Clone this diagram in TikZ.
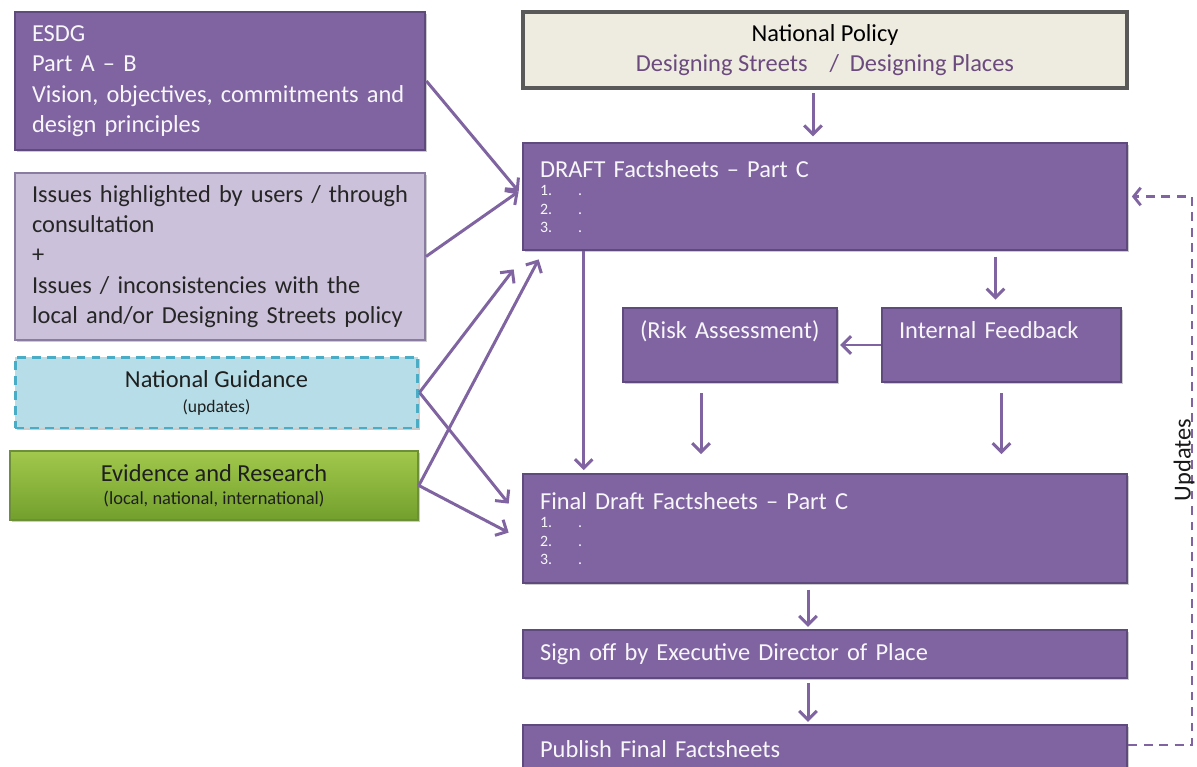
\documentclass[tikz,border=0pt]{standalone}
\usepackage{fontspec}
\setmainfont{Carlito}
\usetikzlibrary{arrows.meta,shadows,calc}
\definecolor{pfill}{HTML}{8064A2}
\definecolor{pborder}{HTML}{5E4A7D}
\definecolor{lavf}{HTML}{CCC1DA}
\definecolor{lavb}{HTML}{8A7CA0}
\definecolor{ngf}{HTML}{B7DEE8}
\definecolor{ngb}{HTML}{4BACC6}
\definecolor{evtop}{HTML}{A2C84C}
\definecolor{evbot}{HTML}{72A02D}
\definecolor{evb}{HTML}{6E8F3A}
\definecolor{npf}{HTML}{EEECE1}
\definecolor{npb}{HTML}{595959}
\definecolor{arrc}{HTML}{7F64A1}
\definecolor{dsp}{HTML}{6B4A7E}
\newcommand\mainsz{\fontsize{13.9}{17.3}\selectfont}
\newcommand\listsz{\fontsize{9}{10.5}\selectfont}
\newcommand\itm[1]{\makebox[0.76cm][l]{#1}.\par}
\begin{document}
\begin{tikzpicture}[x=0.02cm,y=-0.02cm,
  shd/.style={drop shadow={shadow xshift=1.2pt,shadow yshift=-1.2pt,opacity=0.2,fill=black}},
  pbox/.style={shd,draw=pborder,line width=1.6pt,fill=pfill,text=white!94!pfill,
    inner xsep=0.34cm,inner ysep=0pt,align=left,font=\mainsz},
  lbox/.style={shd,draw=lavb,line width=1.2pt,fill=lavf,text=black!85,
    inner xsep=0.34cm,inner ysep=0pt,align=left,font=\mainsz},
  arr/.style={draw=arrc,line width=1.7pt,-{Straight Barb[length=5pt,width=10pt]}},
  updline/.style={draw=arrc,line width=1.6pt,dash pattern=on 5pt off 3.8pt,
    -{Straight Barb[length=4pt,width=10pt]}}]
\useasboundingbox (0,0) rectangle (1197,767);

% left column
\node[pbox,minimum width=8.2cm,minimum height=2.76cm,text width=7.52cm] (esdg) at (220,81)
  {ESDG\\Part A – B\\\mbox{Vision, objectives, commitments and}\\design principles};
\node[lbox,minimum width=8.2cm,minimum height=3.34cm,text width=7.52cm] (issues) at (220,256.5)
  {\mbox{Issues highlighted by users / through}\\consultation\\+\\Issues / inconsistencies with the\\\mbox{local and/or Designing Streets policy}};
\node[shd,draw=ngb,fill=ngf,line width=1.7pt,dash pattern=on 5pt off 3.5pt,
  minimum width=8.06cm,minimum height=1.42cm,align=center,font=\mainsz,text=black!88] (ng) at (216.5,392.5)
  {National Guidance\\[-3pt]{\fontsize{10}{11}\selectfont (updates)}};
\node[shd,draw=evb,top color=evtop,bottom color=evbot,line width=1pt,
  minimum width=8.16cm,minimum height=1.38cm,align=center,font=\mainsz,text=black!88] (ev) at (214,485.5)
  {Evidence and Research\\[-4pt]{\fontsize{10.5}{11}\selectfont (local, national, international)}};

% main column
\node[shd,draw=npb,fill=npf,line width=1.8pt,minimum width=12.08cm,minimum height=1.52cm,
  align=center,font=\mainsz,text=black] (np) at (825,50)
  {National Policy\\{\color{dsp}Designing Streets\hspace{0.9em}/\hspace{0.45em}Designing Places}};
\node[pbox,minimum width=12.08cm,minimum height=2.14cm,text width=11.4cm] (draft) at (825,196.5)
  {DRAFT Factsheets – Part C\par{\listsz\itm{1.}\itm{2.}\itm{3.}}};
\node[pbox,minimum width=4.28cm,minimum height=1.48cm,text width=3.6cm] (risk) at (730,345)
  {(Risk Assessment)\par\mbox{}};
\node[pbox,minimum width=4.78cm,minimum height=1.48cm,text width=4.1cm] (ifb) at (1001.5,345)
  {Internal Feedback\par\mbox{}};
\node[pbox,minimum width=12.08cm,minimum height=2.18cm,text width=11.4cm] (final) at (825,528.5)
  {Final Draft Factsheets – Part C\par{\listsz\itm{1.}\itm{2.}\itm{3.}}};
\node[pbox,minimum width=12.08cm,minimum height=0.96cm,text width=11.4cm] (sign) at (825,654)
  {Sign off by Executive Director of Place};
\node[pbox,minimum width=12.08cm,minimum height=0.96cm,text width=11.4cm] (pub) at (825,749)
  {Publish Final Factsheets};

% connectors
\draw[arr,shorten <=2pt,shorten >=3pt] ([xshift=-0.24cm]np.south) -- ([xshift=-0.24cm]draft.north);
\draw[arr] (esdg.east) -- ([xshift=-0.06cm,yshift=0.1cm]draft.west);
\draw[arr] (issues.east) -- ([xshift=-0.06cm,yshift=0.1cm]draft.west);
\draw[arr] (ng.east) -- ([xshift=-0.16cm,yshift=-0.36cm]draft.south west);
\draw[arr] (ev.east) -- ([xshift=0.34cm,yshift=-0.16cm]draft.south west);
\draw[arr] (ng.east) -- ([xshift=-0.26cm,yshift=-0.62cm]final.north west);
\draw[arr] (ev.east) -- ([xshift=-0.26cm,yshift=-1.2cm]final.north west);
\draw[arr] ([xshift=1.24cm]draft.south west) -- ([xshift=1.24cm,yshift=0.05cm]final.north west);
\draw[arr,shorten <=3pt,shorten >=4pt] ([xshift=-0.12cm]draft.south -| ifb.north) -- ([xshift=-0.12cm]ifb.north);
\draw[arr,shorten >=1pt] (ifb.west) -- (risk.east);
\draw[arr,shorten <=5.5pt,shorten >=10.5pt] ([xshift=-0.58cm]risk.south) -- ([xshift=-0.58cm]risk.south |- final.north);
\draw[arr,shorten <=5.5pt,shorten >=10.5pt] (ifb.south) -- (ifb.south |- final.north);
\draw[arr,shorten <=3pt,shorten >=1pt] ([xshift=-0.34cm]final.south) -- ([xshift=-0.34cm]sign.north);
\draw[arr,shorten <=2pt,shorten >=1pt] ([xshift=-0.34cm]sign.south) -- ([xshift=-0.34cm]pub.north);
\coordinate (rt) at (1192,0);
\draw[updline,shorten >=2pt] ([yshift=0.08cm]pub.east) -- ([yshift=0.08cm]pub.east -| rt) -- (draft.east -| rt) -- (draft.east);
\node[rotate=90,font=\mainsz,text=black!90,inner sep=0pt] (upd) at (1184,460) {Updates};
\end{tikzpicture}
\end{document}
